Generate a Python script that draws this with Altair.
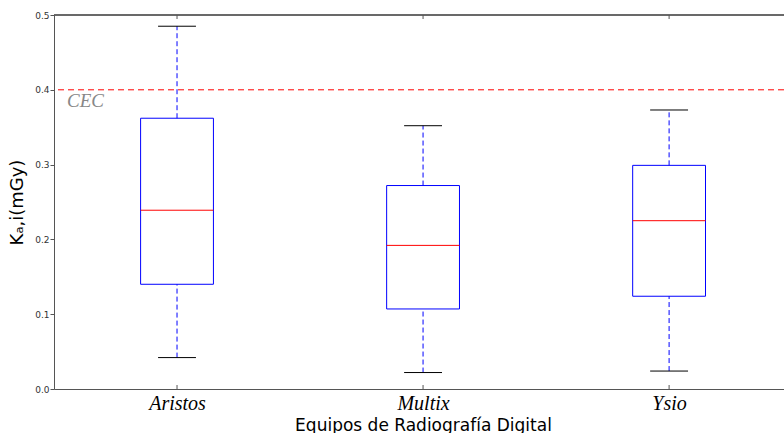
import altair as alt
import pandas as pd

# Summary statistics of the entrance air kerma per digital radiography unit
equipos = ["Aristos", "Multix", "Ysio"]
posicion = [1, 2, 3]
bigote_inf = [0.042, 0.022, 0.024]
q1 = [0.140, 0.107, 0.124]
mediana = [0.239, 0.192, 0.225]
q3 = [0.362, 0.272, 0.299]
bigote_sup = [0.485, 0.352, 0.373]

# Reference level (CEC)
nivel_cec = [0.4]
etiqueta_cec = ["CEC"]

df = pd.DataFrame({
    "equipo": equipos,
    "pos": posicion,
    "lo": bigote_inf,
    "q1": q1,
    "med": mediana,
    "q3": q3,
    "hi": bigote_sup,
})
cec_df = pd.DataFrame({"y": nivel_cec, "label": etiqueta_cec})

HALF_BOX = 0.148
HALF_CAP = 0.077
BLUE = "#0000ff"
AXIS_GREY = "#555555"

xscale = alt.Scale(domain=[0.5, 3.467], nice=False, zero=False)
yscale = alt.Scale(domain=[0, 0.5], nice=False, zero=False)

label_expr = "[" + ",".join(["''"] + [f"'{e}'" for e in equipos]) + "][datum.value]"

x_axis = alt.Axis(
    values=posicion, labelExpr=label_expr, title="Equipos de Radiografía Digital",
    labelFont="Liberation Serif", labelFontStyle="italic", labelFontSize=20,
    labelColor="black", labelPadding=4, ticks=False, grid=False,
    domainColor=AXIS_GREY, titleFont="DejaVu Sans", titleFontSize=17,
    titleFontWeight="normal", titleColor="black", titlePadding=4, titleX=369,
)
y_axis = alt.Axis(
    values=[0.0, 0.1, 0.2, 0.3, 0.4, 0.5], format=".1f", title="Kₐ,i(mGy)",
    labelFont="DejaVu Sans", labelFontSize=9, labelColor="#333333",
    labelPadding=1, tickSize=4, tickColor=AXIS_GREY, grid=False,
    domainColor=AXIS_GREY, titleFont="DejaVu Sans", titleFontSize=18,
    titleFontWeight="normal", titleColor="black", titlePadding=8,
)

base = alt.Chart(df).transform_calculate(
    box_l=f"datum.pos - {HALF_BOX}",
    box_r=f"datum.pos + {HALF_BOX}",
    cap_l=f"datum.pos - {HALF_CAP}",
    cap_r=f"datum.pos + {HALF_CAP}",
)

box = base.mark_rect(fill="white", stroke=BLUE, strokeWidth=1).encode(
    x=alt.X("box_l:Q", scale=xscale, axis=x_axis),
    x2="box_r:Q",
    y=alt.Y("q1:Q", scale=yscale, axis=y_axis),
    y2="q3:Q",
)

whisker_hi = base.mark_rule(color=BLUE, strokeWidth=1, strokeDash=[5, 3]).encode(
    x=alt.X("pos:Q", scale=xscale), y=alt.Y("q3:Q", scale=yscale), y2="hi:Q"
)
whisker_lo = base.mark_rule(color=BLUE, strokeWidth=1, strokeDash=[5, 3]).encode(
    x=alt.X("pos:Q", scale=xscale), y=alt.Y("lo:Q", scale=yscale), y2="q1:Q"
)
cap_hi = base.mark_rule(color="black", strokeWidth=1).encode(
    x=alt.X("cap_l:Q", scale=xscale), x2="cap_r:Q", y=alt.Y("hi:Q", scale=yscale)
)
cap_lo = base.mark_rule(color="black", strokeWidth=1).encode(
    x=alt.X("cap_l:Q", scale=xscale), x2="cap_r:Q", y=alt.Y("lo:Q", scale=yscale)
)
median = base.mark_rule(color="red", strokeWidth=1).encode(
    x=alt.X("box_l:Q", scale=xscale), x2="box_r:Q", y=alt.Y("med:Q", scale=yscale)
)

# Inward tick marks on the bottom and top spines
tick_bottom = base.mark_rule(color=AXIS_GREY, strokeWidth=1).encode(
    x=alt.X("pos:Q", scale=xscale), y=alt.value(374), y2=alt.value(370)
)
tick_top = base.mark_rule(color=AXIS_GREY, strokeWidth=1).encode(
    x=alt.X("pos:Q", scale=xscale), y=alt.value(0), y2=alt.value(4)
)
top_spine = base.mark_rule(color=AXIS_GREY, strokeWidth=1).encode(y=alt.value(0))

cec_line = alt.Chart(cec_df).mark_rule(color="red", strokeWidth=1, strokeDash=[6, 4]).encode(
    y=alt.Y("y:Q", scale=yscale)
)
cec_text = alt.Chart(cec_df).transform_calculate(
    tx="0.553", ty="datum.y - 0.023"
).mark_text(
    font="Liberation Serif", fontStyle="italic", fontSize=19, color="#888888",
    align="left", baseline="alphabetic",
).encode(
    x=alt.X("tx:Q", scale=xscale), y=alt.Y("ty:Q", scale=yscale), text="label:N"
)

chart = alt.layer(
    box, whisker_hi, whisker_lo, cap_hi, cap_lo, median,
    cec_line, cec_text, tick_bottom, tick_top, top_spine,
).properties(
    width=730, height=374,
    autosize=alt.AutoSizeParams(type="none"),
    padding={"left": 54, "top": 15, "right": 0, "bottom": 44},
    background="white",
).configure_view(stroke=None)

chart.save("out.html", embed_options={"renderer": "svg", "actions": False})
